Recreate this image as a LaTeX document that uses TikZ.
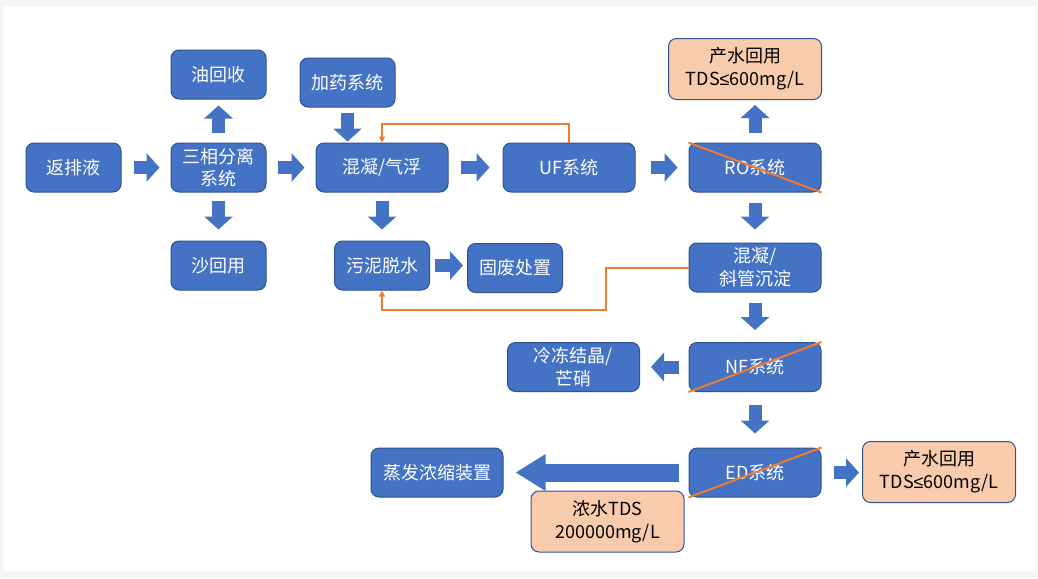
\documentclass[tikz,border=0pt]{standalone}
\usepackage{fontspec}
\setmainfont{Noto Sans CJK SC}
\newfontfamily\symfont{Liberation Sans}
\usepackage{xcolor}
\usepackage{tikz}
\usetikzlibrary{arrows.meta,calc}

\definecolor{boxblue}{HTML}{4472C4}
\definecolor{edgeblue}{HTML}{2F528F}
\definecolor{peach}{HTML}{F8CBAD}
\definecolor{lineorange}{HTML}{ED7D31}
\definecolor{framegray}{HTML}{F5F5F5}

\newcommand{\lesym}{{\symfont ≤}}

\begin{document}
\begin{tikzpicture}[
    x=0.75pt, y=-0.75pt,
    proc/.style={draw=edgeblue, line width=0.75pt, rounded corners=6pt, fill=boxblue, text=white,
        minimum width=71.25pt, minimum height=36.75pt, align=center, inner sep=2pt,
        font=\fontsize{13.5}{17}\selectfont},
    wide/.style={proc, minimum width=99pt},
    note/.style={proc, fill=peach, text=black, minimum width=114.75pt, minimum height=45.75pt},
    barrow/.style={draw=boxblue, line width=9.75pt, -{Triangle[length=9.75pt, width=21pt]}},
    fb/.style={draw=lineorange, line width=1.5pt, -{Triangle[length=4.5pt, width=4.5pt]}},
    cross/.style={draw=lineorange, line width=1.5pt},
]
    % background
    \useasboundingbox (0,0) rectangle (1038,578);
    \fill[framegray] (0,0) rectangle (1038,578);
    \fill[white] (3,6) rectangle (1036,571);

    % pretreatment
    \node[proc] (fp) at (73.5, 167.5) {返排液};
    \node[proc] (sx) at (218.5, 167.5) {三相分离\\系统};
    \node[proc] (yh) at (218.5, 74.5) {油回收};
    \node[proc] (sh) at (218.5, 265.5) {沙回用};
    \node[proc] (jy) at (347.5, 82.5) {加药系统};
    \node[wide] (hn) at (382, 167.5) {混凝/气浮};
    \node[proc] (wn) at (382, 265.5) {污泥脱水};
    \node[proc] (gf) at (515, 268) {固废处置};

    % membrane line
    \node[wide] (uf) at (569, 167.5) {UF系统};
    \node[wide] (ro) at (755, 167.5) {RO系统};
    \node[note] (cs) at (745, 69) {产水回用\\TDS\lesym600mg/L};
    \node[wide] (xg) at (755, 267.5) {混凝/\\斜管沉淀};
    \node[wide] (nf) at (755, 367) {NF系统};
    \node[wide] (ld) at (573.5, 367) {冷冻结晶/\\芒硝};
    \node[wide] (ed) at (755, 472.5) {ED系统};
    \node[note] (cs2) at (939, 472) {产水回用\\TDS\lesym600mg/L};
    \node[wide] (zf) at (437, 472.5) {蒸发浓缩装置};
    \node[note] (nz) at (607.5, 521.5) {浓水TDS\\200000mg/L};

    % block arrows
    \draw[barrow, shorten <=9pt, shorten >=8.25pt] (fp.east) -- (sx.west);
    \draw[barrow, shorten <=8.25pt, shorten >=8.25pt] (sx.east) -- (hn.west);
    \draw[barrow, shorten <=7.5pt, shorten >=4.5pt] (sx.north) -- (yh.south);
    \draw[barrow, shorten <=6pt, shorten >=8.25pt] (sx.south) -- (sh.north);
    \draw[barrow, shorten <=3.75pt, shorten >=0.75pt] (jy.south) -- (jy.south |- hn.north);
    \draw[barrow, shorten <=9pt, shorten >=9.75pt] (hn.east) -- (uf.west);
    \draw[barrow, shorten <=11.25pt, shorten >=8.25pt] (uf.east) -- (ro.west);
    \draw[barrow, shorten <=7.5pt, shorten >=3.75pt] (ro.north) -- (ro.north |- cs.south);
    \draw[barrow, shorten <=6pt, shorten >=8.25pt] (hn.south) -- (wn.north);
    \draw[barrow, shorten <=3.75pt, shorten >=3pt] (wn.east) -- (wn.east -| gf.west);
    \draw[barrow, shorten <=7.5pt, shorten >=9.75pt] (ro.south) -- (xg.north);
    \draw[barrow, shorten <=7.5pt, shorten >=9pt] (xg.south) -- (nf.north);
    \draw[barrow, shorten <=7.5pt, shorten >=8.25pt] (nf.west) -- (ld.east);
    \draw[barrow, shorten <=9.75pt, shorten >=10.5pt] (nf.south) -- (ed.north);
    \draw[barrow, shorten <=9pt, shorten >=2.25pt] (ed.east) -- (ed.east -| cs2.west);
    \draw[barrow, line width=13.5pt, -{Triangle[length=22.5pt, width=26pt]},
        shorten <=7.5pt, shorten >=9pt] (ed.west) -- (zf.east);

    % return lines
    \draw[fb] (uf.north) -- ++(0,-19) -| (hn.north);
    \draw[fb] (xg.west) -| ++(-83,42) -| (wn.south);

    % crossed-out units
    \draw[cross] (ro.north west) -- (ro.south east);
    \draw[cross] (nf.south west) -- (nf.north east);
    \draw[cross] (ed.south west) -- (ed.north east);
\end{tikzpicture}
\end{document}
